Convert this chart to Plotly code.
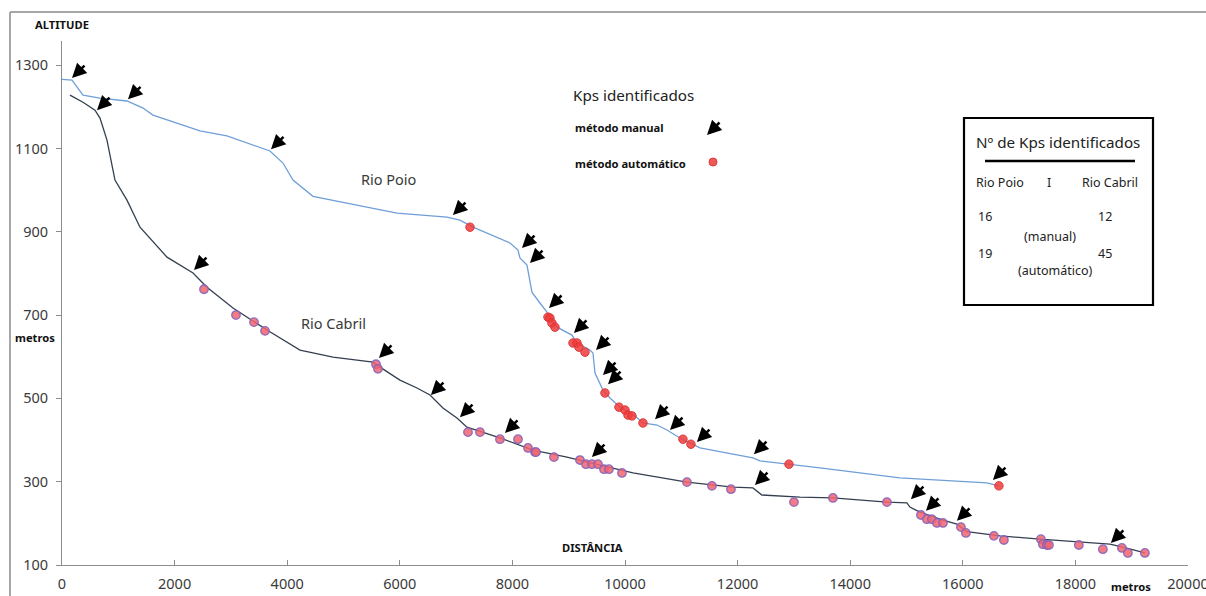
import plotly.graph_objects as go

# ---------------- data ----------------
poio_x = [0, 178, 373, 675, 1154, 1439, 1616, 2451, 2930, 3694, 3925, 4103, 4458, 5062, 5950,
          6838, 7069, 7300, 7957, 8099, 8134, 8259, 8312, 8347, 8489, 8614, 8667, 8791, 9058,
          9147, 9378, 9431, 9467, 9609, 9733, 9911, 10142, 10319, 10568, 10745, 10976, 11189,
          11331, 11917, 12272, 12397, 12930, 13463, 14883, 16073, 16428, 16641]
poio_y = [1266, 1264, 1228, 1221, 1214, 1197, 1180, 1142, 1130, 1094, 1065, 1024, 985, 969, 945,
          935, 928, 911, 873, 856, 837, 820, 784, 755, 729, 707, 693, 671, 652,
          633, 616, 609, 561, 520, 501, 479, 462, 441, 436, 424, 405, 390,
          381, 366, 357, 350, 342, 333, 309, 299, 297, 290]

cabril_x = [142, 373, 586, 675, 799, 941, 1154, 1385, 1865, 2327, 2575, 3037, 3641, 4227, 4813,
            5524, 5648, 6003, 6305, 6536, 6766, 7015, 7193, 7779, 8365, 8969, 9555, 10142, 11100,
            11917, 12272, 12432, 13107, 13693, 14652, 15007, 15060, 15238, 15647, 15896, 16073,
            16659, 17369, 18435, 18612, 18843, 19234]
cabril_y = [1228, 1211, 1192, 1173, 1120, 1024, 976, 911, 839, 801, 767, 717, 664, 616, 599,
            587, 575, 544, 525, 508, 477, 453, 431, 405, 376, 359, 340, 321, 299,
            287, 285, 268, 263, 261, 251, 249, 239, 227, 208, 198, 180,
            170, 162, 153, 150, 143, 129]

# automatic knickpoints (dots)
poio_auto_x = [7247, 8632, 8667, 8702, 8756, 9076, 9147, 9183, 9289, 9644, 9893, 10000, 10053,
               10124, 10319, 11029, 11171, 12912, 16641]
poio_auto_y = [911, 695, 693, 681, 671, 633, 633, 623, 611, 513, 479, 472, 460,
               458, 441, 402, 390, 342, 290]

cabril_auto_x = [2522, 3090, 3410, 3606, 5577, 5612, 7211, 7424, 7779, 8099, 8277, 8401, 8420,
                 8738, 9200, 9307, 9413, 9520, 9627, 9715, 9946, 11100, 11544, 11882, 13001,
                 13693, 14652, 15256, 15362, 15451, 15540, 15647, 15967, 16055, 16552, 16730,
                 17387, 17422, 17493, 17530, 18061, 18488, 18826, 18932, 19234]
cabril_auto_y = [762, 700, 683, 662, 582, 571, 419, 419, 402, 402, 381, 371, 371,
                 359, 352, 342, 342, 342, 330, 330, 321, 299, 290, 282, 251,
                 261, 251, 220, 210, 210, 201, 201, 191, 177, 170, 160,
                 162, 150, 148, 148, 148, 138, 141, 129, 129]

# manual knickpoints (arrow tips)
poio_man_x = [178, 1172, 3712, 6944, 8170, 8312, 8650, 9093, 9485, 9609, 9698, 10533, 10799,
              11278, 12290, 16535]
poio_man_y = [1269, 1218, 1098, 940, 861, 825, 717, 657, 616, 556, 534, 450, 424,
              395, 366, 304]
cabril_man_x = [622, 2344, 5630, 6553, 7069, 7868, 9413, 12308, 15078, 15345, 15896, 18630]
cabril_man_y = [1192, 808, 597, 508, 455, 417, 359, 292, 258, 230, 206, 153]

x_ticks = [0, 2000, 4000, 6000, 8000, 10000, 12000, 14000, 16000, 18000, 20000]
y_ticks = [100, 300, 500, 700, 900, 1100, 1300]

# ---------------- figure ----------------
W, H = 1206, 596
ML, MR, MT, MB = 62, 18, 41, 31
PW, PH = W - ML - MR, H - MT - MB


def px(xp):
    return (xp - ML) / PW


def py(yp):
    return (H - MB - yp) / PH


FONT = "Noto Sans"
TXT = "#3a3a3a"

fig = go.Figure()
fig.add_trace(go.Scatter(x=poio_x, y=poio_y, mode="lines",
                         line=dict(color="#6f9fd8", width=1.3), hoverinfo="skip"))
fig.add_trace(go.Scatter(x=cabril_x, y=cabril_y, mode="lines",
                         line=dict(color="#34404f", width=1.3), hoverinfo="skip"))
fig.add_trace(go.Scatter(x=poio_auto_x, y=poio_auto_y, mode="markers",
                         marker=dict(size=8.5, color="rgba(238,60,60,0.85)",
                                     line=dict(color="rgba(220,50,50,0.9)", width=1))))
fig.add_trace(go.Scatter(x=cabril_auto_x, y=cabril_auto_y, mode="markers",
                         marker=dict(size=8.5, color="rgba(242,100,110,0.85)",
                                     line=dict(color="rgba(130,100,190,0.9)", width=1.3))))

annotations = []
for xs, ys in ((poio_man_x, poio_man_y), (cabril_man_x, cabril_man_y)):
    for x, y in zip(xs, ys):
        annotations.append(dict(x=x, y=y, xref="x", yref="y", text="", showarrow=True,
                                ax=14, ay=-14, arrowhead=2, arrowsize=1.15, arrowwidth=2.5,
                                arrowcolor="black", standoff=0))

# legend arrow
annotations.append(dict(x=px(707), y=py(135), xref="paper", yref="paper", text="",
                        showarrow=True, ax=14, ay=-14, arrowhead=2, arrowsize=1.15,
                        arrowwidth=2.5, arrowcolor="black", standoff=0))


def txt(t, xp, yp, size=14, bold=False, anchor="center", color=TXT):
    annotations.append(dict(x=px(xp), y=py(yp), xref="paper", yref="paper",
                            text=f"<b>{t}</b>" if bold else t, showarrow=False,
                            xanchor=anchor, yanchor="middle",
                            font=dict(family=FONT, size=size, color=color)))


txt("ALTITUDE", 62, 25, 11.2, True, color="#111")
txt("metros", 35, 338, 11.2, True, color="#111")
txt("DISTÂNCIA", 592, 547, 11.2, True, color="#111")
txt("metros", 1131, 586, 11.2, True, color="#111")
txt("Rio Poio", 388, 179, 14.5)
txt("Rio Cabril", 333, 323, 14.5)
txt("Kps identificados", 633, 95, 15.2, color="#222")
txt("método manual", 573, 128, 11.2, True, "left", "#111")
txt("método automático", 573, 163, 11.2, True, "left", "#111")

txt("Nº de Kps identificados", 1058, 142, 15.2, color="#222")
txt("Rio Poio", 1000, 182, 12.5, color="#222")
txt("I", 1049, 182, 12.5, color="#222")
txt("Rio Cabril", 1110, 182, 12.5, color="#222")
txt("16", 985, 216, 12.5, color="#222")
txt("12", 1105, 216, 12.5, color="#222")
txt("(manual)", 1050, 237, 12.5, color="#222")
txt("19", 985, 253, 12.5, color="#222")
txt("45", 1105, 253, 12.5, color="#222")
txt("(automático)", 1055, 270, 12.5, color="#222")

shapes = [
    # box
    dict(type="rect", xref="paper", yref="paper", x0=px(964), x1=px(1153), y0=py(305), y1=py(118),
         line=dict(color="black", width=2.2), fillcolor="rgba(0,0,0,0)"),
    dict(type="line", xref="paper", yref="paper", x0=px(985), x1=px(1135), y0=py(161), y1=py(161),
         line=dict(color="black", width=2.5)),
    # legend dot
    dict(type="circle", xref="paper", yref="paper", xsizemode="pixel", ysizemode="pixel",
         xanchor=px(713), yanchor=py(162), x0=-4, x1=4, y0=-4, y1=4,
         fillcolor="rgba(238,70,70,0.9)", line=dict(color="rgba(220,60,60,1)", width=1)),
    # outer chart border
    dict(type="line", xref="paper", yref="paper", x0=px(10), x1=px(10), y0=py(12), y1=py(600),
         line=dict(color="#a6a6a6", width=2)),
    dict(type="line", xref="paper", yref="paper", x0=px(10), x1=px(1210), y0=py(12), y1=py(12),
         line=dict(color="#a6a6a6", width=2)),
]

fig.update_layout(
    width=W, height=H, margin=dict(l=ML, r=MR, t=MT, b=MB, autoexpand=False),
    paper_bgcolor="white", plot_bgcolor="white", showlegend=False,
    annotations=annotations, shapes=shapes,
    xaxis=dict(range=[0, 20000], tickvals=x_ticks, ticktext=[str(v) for v in x_ticks],
               showgrid=False, zeroline=False, showline=True, linecolor="#8c8c8c", linewidth=1,
               ticks="inside", ticklen=5, tickcolor="#8c8c8c", automargin=False,
               ticklabeloverflow="allow", ticklabelstandoff=6,
               tickfont=dict(family=FONT, size=14.5, color=TXT)),
    yaxis=dict(range=[100, 1358], tickvals=y_ticks, ticktext=[str(v) for v in y_ticks],
               showgrid=False, zeroline=False, showline=True, linecolor="#8c8c8c", linewidth=1,
               ticks="outside", ticklen=5, tickcolor="#8c8c8c", automargin=False,
               ticklabeloverflow="allow", ticklabelstandoff=5,
               tickfont=dict(family=FONT, size=14.5, color=TXT)),
)

fig.write_html("out.html", config={"displayModeBar": False},
               post_script="document.body.style.margin='0';document.body.style.overflow='hidden';")
